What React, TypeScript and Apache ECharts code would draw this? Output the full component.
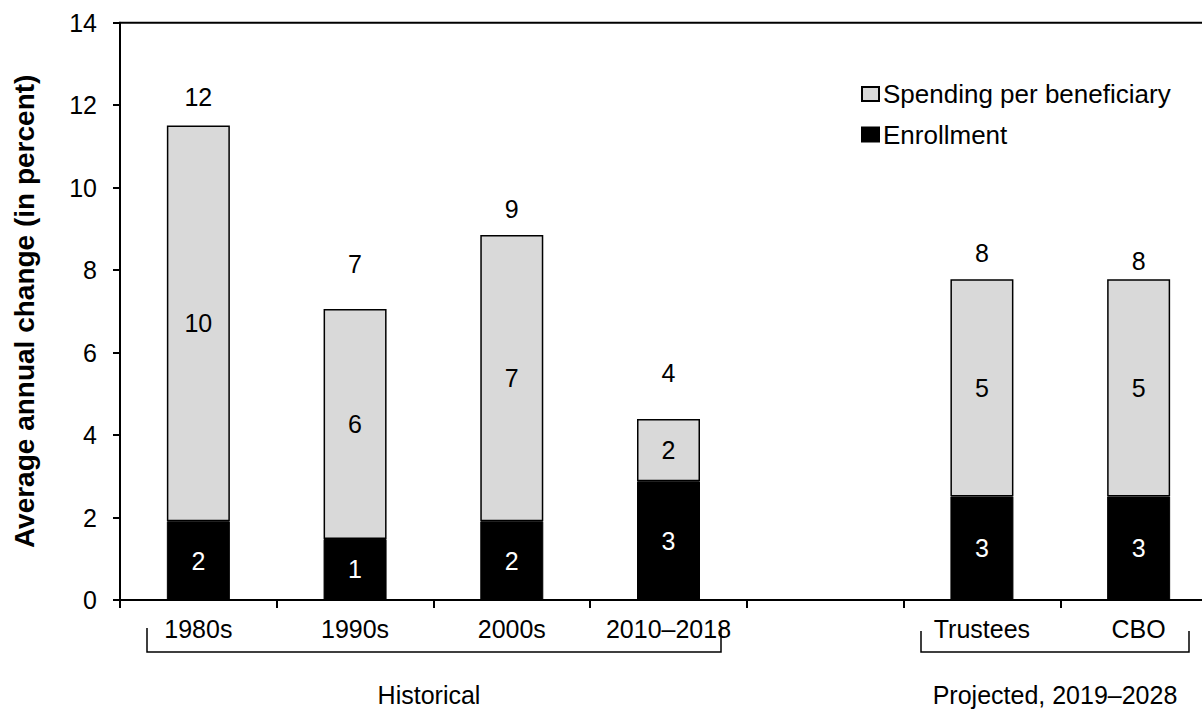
import React, { useEffect, useRef } from "react";
import * as echarts from "echarts";

// ---- data ----
const categories = ["1980s", "1990s", "2000s", "2010–2018", "", "Trustees", "CBO"];
const enrollment: (number | null)[] = [1.91, 1.48, 1.91, 2.88, null, 2.51, 2.51];
const spendingPerBeneficiary: (number | null)[] = [9.6, 5.58, 6.94, 1.51, null, 5.27, 5.27];
const yMin = 0;
const yMax = 14;
const yInterval = 2;
const groupLabels = ["Historical", "Projected, 2019–2028"];
const seriesNames = ["Spending per beneficiary", "Enrollment"];

// ---- label layout (pixels above the bar top for the total labels) ----
const totalLabelLift = [28, 45, 26, 46, 0, 26.5, 18.5];

const FONT = "'Liberation Sans', Arial, sans-serif";
const FS = 25;

export default function App() {
  const ref = useRef<HTMLDivElement>(null);

  useEffect(() => {
    if (!ref.current) return;
    const chart = echarts.init(ref.current, undefined, { renderer: "svg" });

    const totals = enrollment.map((e, i) => {
      const s = spendingPerBeneficiary[i];
      if (e == null || s == null) return null;
      return e + s;
    });

    const round = (p: any) => {
      const v = Array.isArray(p.value) ? p.value[1] : p.value;
      return v == null ? "" : String(Math.round(v));
    };

    chart.setOption({
      animation: false,
      grid: {
        left: 120,
        right: 23,
        top: 22.7,
        bottom: 109,
        show: true,
        borderColor: "#000",
        borderWidth: 2,
        backgroundColor: "transparent",
      },
      legend: {
        orient: "vertical",
        left: 861,
        top: 81,
        padding: 0,
        itemWidth: 17,
        itemHeight: 14,
        itemGap: 14.5,
        selectedMode: false,
        textStyle: { fontSize: 26, color: "#000", fontFamily: FONT, padding: [0, 0, 0, -1] },
        data: [
          { name: seriesNames[0], icon: "rect" },
          { name: seriesNames[1], icon: "rect" },
        ],
      },
      xAxis: {
        type: "category",
        data: categories,
        axisLine: { lineStyle: { color: "#000", width: 2 } },
        axisTick: {
          show: true,
          length: 8,
          interval: 0,
          alignWithLabel: false,
          lineStyle: { color: "#000", width: 2 },
        },
        axisLabel: {
          interval: 0,
          margin: 16,
          fontSize: FS,
          color: "#000",
          fontFamily: FONT,
        },
        splitLine: { show: false },
      },
      yAxis: {
        type: "value",
        min: yMin,
        max: yMax,
        interval: yInterval,
        axisLine: { show: true, lineStyle: { color: "#000", width: 2 } },
        axisTick: { show: true, length: 7, lineStyle: { color: "#000", width: 2 } },
        axisLabel: { margin: 23, fontSize: FS, color: "#000", fontFamily: FONT },
        splitLine: { show: false },
        name: "Average annual change (in percent)",
        nameLocation: "middle",
        nameRotate: 90,
        nameGap: 82,
        nameTextStyle: {
          fontSize: 28,
          fontWeight: "bold",
          color: "#000",
          fontFamily: FONT,
        },
      },
      series: [
        {
          name: seriesNames[1],
          type: "bar",
          stack: "total",
          barWidth: 63,
          data: enrollment,
          itemStyle: { color: "#000", borderColor: "#000", borderWidth: 1 },
          label: {
            show: true,
            position: "inside",
            color: "#fff",
            fontSize: FS,
            fontFamily: FONT,
            formatter: round,
          },
        },
        {
          name: seriesNames[0],
          type: "bar",
          stack: "total",
          barWidth: 63,
          data: spendingPerBeneficiary,
          itemStyle: { color: "#d9d9d9", borderColor: "#000", borderWidth: 1.5 },
          label: {
            show: true,
            position: "inside",
            color: "#000",
            fontSize: FS,
            fontFamily: FONT,
            formatter: round,
          },
        },
        {
          name: "Total",
          type: "scatter",
          silent: true,
          symbolSize: 0,
          itemStyle: { color: "#000" },
          data: totals.map((t, i) =>
            t == null
              ? null
              : { value: t, label: { offset: [0, -totalLabelLift[i]] } }
          ),
          label: {
            show: true,
            position: "inside",
            color: "#000",
            opacity: 1,
            textBorderWidth: 0,
            fontSize: FS,
            fontFamily: FONT,
            formatter: round,
          },
        },
      ],
      graphic: [
        {
          type: "polyline",
          silent: true,
          shape: { points: [[147, 628], [147, 652], [721, 652], [721, 628]] },
          style: { stroke: "#000", lineWidth: 1.5, fill: "none" },
        },
        {
          type: "polyline",
          silent: true,
          shape: { points: [[921, 631], [921, 652], [1189, 652], [1189, 631]] },
          style: { stroke: "#000", lineWidth: 1.5, fill: "none" },
        },
        {
          type: "text",
          x: 429,
          y: 695,
          style: {
            text: groupLabels[0],
            fontSize: FS,
            fontFamily: FONT,
            fill: "#000",
            textAlign: "center",
            textVerticalAlign: "middle",
          },
        },
        {
          type: "text",
          x: 1055,
          y: 695,
          style: {
            text: groupLabels[1],
            fontSize: FS,
            fontFamily: FONT,
            fill: "#000",
            textAlign: "center",
            textVerticalAlign: "middle",
          },
        },
      ],
    });

    return () => chart.dispose();
  }, []);

  return (
    <div
      style={{
        position: "fixed",
        left: 0,
        top: 0,
        width: 1202,
        height: 709,
        overflow: "hidden",
        background: "#fff",
      }}
    >
      <div ref={ref} style={{ width: 1240, height: 709 }} />
    </div>
  );
}
